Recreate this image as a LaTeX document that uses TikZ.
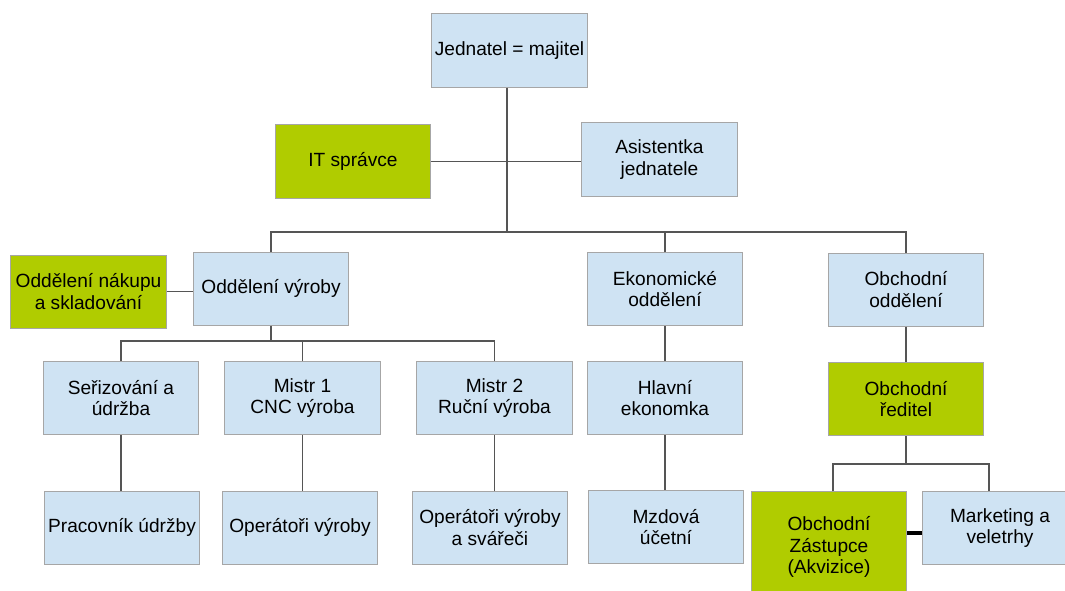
\documentclass[tikz,border=0pt]{standalone}
\usepackage{fontspec}
\setmainfont{Liberation Sans}
\usetikzlibrary{calc}
\definecolor{boxblue}{RGB}{207,227,243}
\definecolor{boxgreen}{RGB}{176,204,0}
\definecolor{boxedge}{RGB}{166,166,166}
\definecolor{linegray}{RGB}{85,85,85}
\begin{document}
\begin{tikzpicture}[x=0.025cm,y=-0.025cm,
  orgbox/.style={draw=boxedge, line width=0.7pt, fill=boxblue, minimum width=3.875cm, minimum height=1.825cm, inner sep=0pt, align=center, text=black, font=\fontsize{13.6}{15.4}\selectfont},
  greenbox/.style={orgbox, fill=boxgreen},
  link/.style={draw=linegray, line width=1pt},
  thickbar/.style={draw=black, line width=2.8pt}]
\useasboundingbox (0,0) rectangle (1065,591);
\clip (0,0) rectangle (1065,591);
\fill[white] (0,0) rectangle (1065,591);

% nodes
\node[orgbox] (jed) at (509.5,50.5) {Jednatel = majitel};
\node[greenbox] (it) at (353,161.5) {IT správce};
\node[orgbox] (asist) at (659.5,159.5) {Asistentka\\jednatele};
\node[greenbox] (nakup) at (88.5,291.5) {Oddělení nákupu\\a skladování};
\node[orgbox] (vyr) at (271,288.5) {Oddělení výroby};
\node[orgbox] (eko) at (665,289) {Ekonomické\\oddělení};
\node[orgbox] (obo) at (906,289.5) {Obchodní\\oddělení};
\node[orgbox] (ser) at (121,398) {Seřizování a\\údržba};
\node[orgbox] (mA) at (302.5,398) {Mistr 1\\CNC výroba};
\node[orgbox] (mB) at (494.5,398) {Mistr 2\\Ruční výroba};
\node[orgbox] (prac) at (122,527.5) {Pracovník údržby};
\node[orgbox] (opA) at (300,527.5) {Operátoři výroby};
\node[orgbox] (opB) at (490,527.5) {Operátoři výroby\\a svářeči};
\node[orgbox] (hl) at (665,398) {Hlavní\\ekonomka};
\node[orgbox] (mz) at (666,527) {Mzdová\\účetní};
\node[greenbox] (red) at (906,399) {Obchodní\\ředitel};
\node[greenbox, minimum height=2.75cm] (zast) at (829,547) {Obchodní\\Zástupce\\(Akvizice)};
\node[orgbox] (mark) at (1000,528) {Marketing a\\veletrhy};

% connectors
\coordinate (bus) at (507,232);
\draw[link] (jed.south -| bus) -- (bus);
\draw[link] (it.east) -- (asist.west |- it.east);
\draw[link] (vyr.north) |- (bus) -| (obo.north);
\draw[link] (eko.north) -- (eko.north |- bus);
\draw[link] (nakup.east) -- (vyr.west |- nakup.east);

\coordinate (vbus) at (271,341);
\draw[link] (vyr.south) -- (vbus);
\draw[link] (ser.north) |- (vbus) -| (mB.north);
\draw[link] (mA.north) -- (mA.north |- vbus);
\draw[link] (ser.south) -- (ser.south |- prac.north);
\draw[link] (mA.south) -- (mA.south |- opA.north);
\draw[link] (mB.south) -- (mB.south |- opB.north);

\draw[link] (eko.south) -- (hl.north);
\draw[link] (hl.south) -- (hl.south |- mz.north);
\draw[link] (obo.south) -- (red.north);

\coordinate (obus) at (906,464);
\draw[link] (red.south) -- (obus);
\draw[link] ($(zast.north)+(4,0)$) |- (obus) -| ($(mark.north)+(-11,0)$);
\draw[thickbar] ($(zast.east |- mark.west)+(0,5)$) -- ($(mark.west)+(0,5)$);
\end{tikzpicture}
\end{document}
